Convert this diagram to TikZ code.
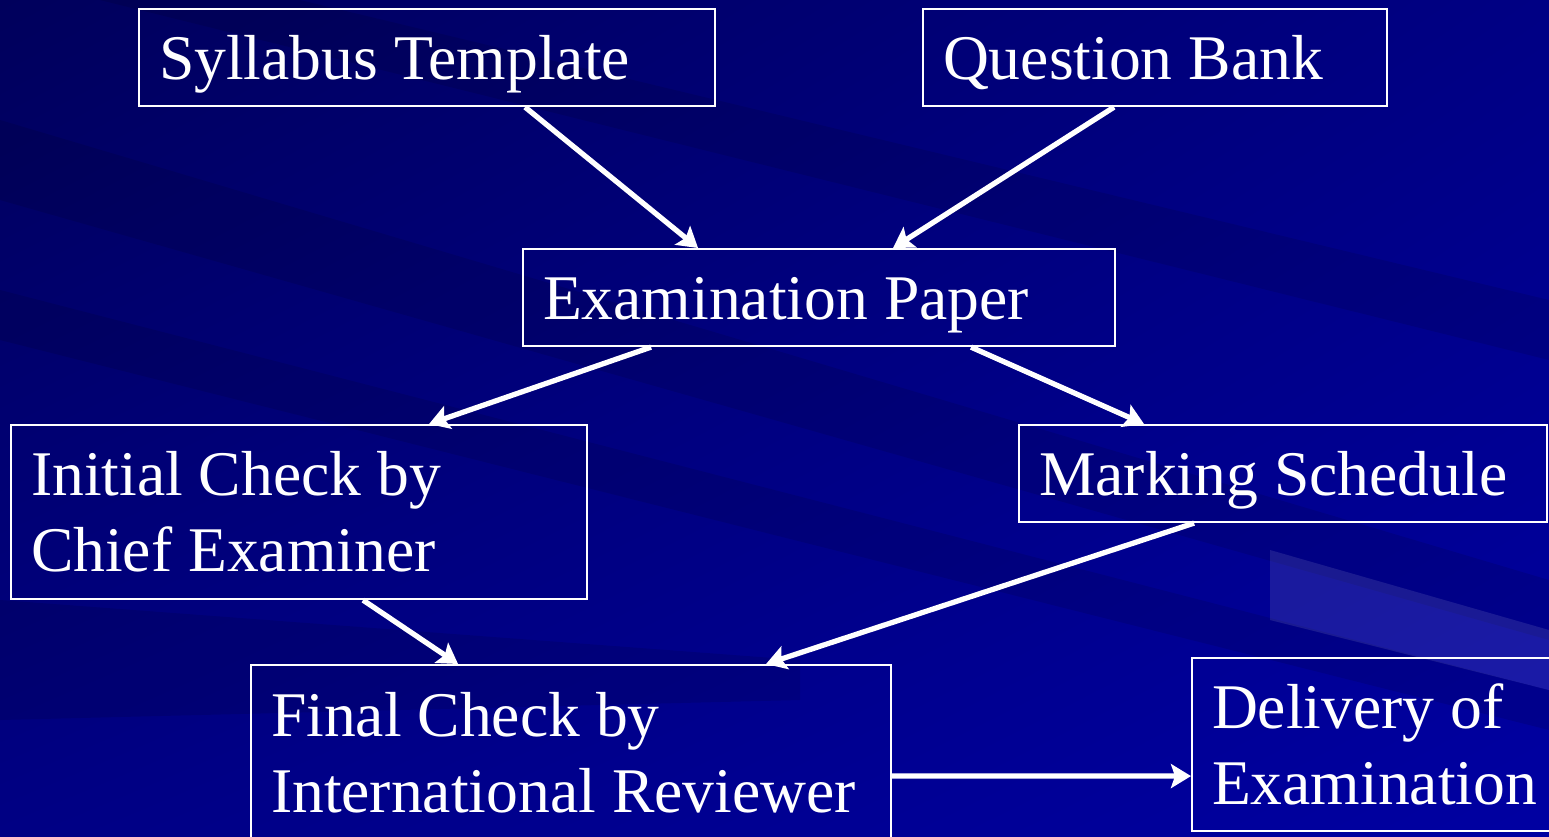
\documentclass[tikz,border=0pt]{standalone}
\usepackage{fontspec}
\setmainfont{Liberation Serif}
\usepackage{tikz}
\usetikzlibrary{arrows.meta}
\usetikzlibrary{shadings}
\definecolor{bgdark}{RGB}{0,0,92}
\definecolor{bgmid}{RGB}{0,0,132}
\definecolor{bglight}{RGB}{0,0,162}

\begin{document}
\begin{tikzpicture}[
    box/.style={draw=white, line width=0.6pt, text=white, align=flush left,
        inner xsep=0.2cm, inner ysep=0pt, anchor=north west,
        font=\fontsize{18.1}{21.6}\selectfont},
    oneline/.style={text height=0.65cm, text depth=0.22cm, minimum height=0.97cm},
    flow/.style={draw=white, line width=1.5pt,
        -{Stealth[length=0.2cm, width=0.24cm, inset=0.04cm]}},
    streak/.style={fill=#1, opacity=0.10}
]
    \useasboundingbox (0, 0) rectangle (15.49, -8.36);
    % background
    \shade[upper left=bgdark, upper right=bgmid, lower left=bgmid, lower right=bglight]
        (0, 0) rectangle (15.49, -8.36);
    \fill[streak=black] (0, -1.2) -- (15.49, -5.8) -- (15.49, -6.4) -- (0, -2.0) -- cycle;
    \fill[streak=black] (0, -2.9) -- (15.49, -6.9) -- (15.49, -7.3) -- (0, -3.4) -- cycle;
    \fill[streak=black] (3.0, 0) -- (15.49, -3.0) -- (15.49, -3.6) -- (1.0, 0) -- cycle;
    \fill[streak=white] (12.7, -5.5) -- (15.49, -6.3) -- (15.49, -6.9) -- (12.7, -6.2) -- cycle;
    \fill[streak=black] (0, -6.0) -- (8, -6.6) -- (8, -7.0) -- (0, -7.2) -- cycle;

    % boxes
    \node[box, oneline, text width=5.36cm] (syl) at (1.38, -0.08) {Syllabus Template};
    \node[box, oneline, text width=4.24cm] (qbank) at (9.22, -0.08) {Question Bank};
    \node[box, oneline, text width=5.52cm] (exam) at (5.22, -2.48) {Examination Paper};
    \node[box, text width=5.36cm, minimum height=1.74cm] (init) at (0.10, -4.24) {Initial Check by\\Chief Examiner};
    \node[box, oneline, text width=4.88cm] (mark) at (10.18, -4.24) {Marking Schedule};
    \node[box, text width=6.00cm, minimum height=1.76cm] (final) at (2.50, -6.64) {Final Check by\\International Reviewer};
    \node[box, text width=3.40cm, minimum height=1.73cm] (deliv) at (11.91, -6.57) {Delivery of\\Examination};

    % arrows
    \draw[flow] ([xshift=0.98cm]syl.south) -- ([xshift=-1.21cm]exam.north);
    \draw[flow] ([xshift=-0.41cm]qbank.south) -- ([xshift=0.74cm]exam.north);
    \draw[flow] ([xshift=-1.68cm]exam.south) -- ([xshift=1.30cm]init.north);
    \draw[flow] ([xshift=1.52cm]exam.south) -- ([xshift=-1.39cm]mark.north);
    \draw[flow] ([xshift=0.64cm]init.south) -- ([xshift=-1.13cm]final.north);
    \draw[flow] ([xshift=-0.89cm]mark.south) -- ([xshift=1.95cm]final.north);
    \draw[flow] ([yshift=-0.23cm]final.east) -- ([yshift=-0.315cm]deliv.west);

\end{tikzpicture}
\end{document}
